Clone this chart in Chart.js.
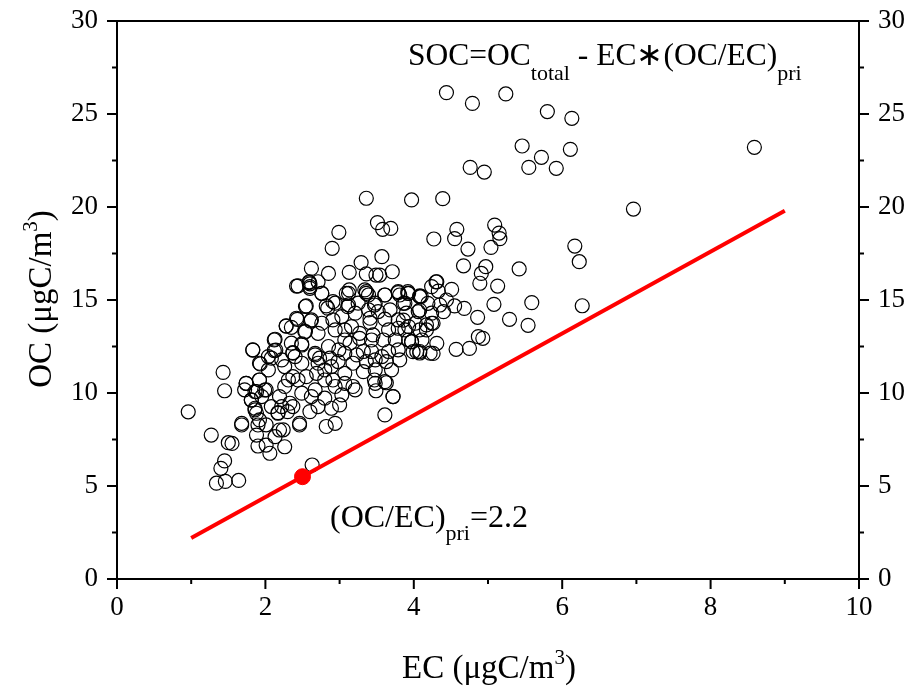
<!DOCTYPE html>
<html><head><meta charset="utf-8">
<script src="https://cdn.jsdelivr.net/npm/chart.js@4.4.1/dist/chart.umd.min.js"></script>
<style>html,body{margin:0;padding:0;background:#fff;}canvas{display:block;}</style>
</head><body>
<canvas id="c" width="909" height="688"></canvas>
<script>
// ---- data (EC, OC in µgC/m3) ----
const ecValues = [
  0.96,1.27,1.50,1.55,1.34,1.46,1.40,1.45,1.64,1.43,1.45,1.68,
  1.83,1.93,1.74,1.92,1.88,1.99,1.81,1.86,1.88,1.90,1.88,1.90,
  2.01,2.06,2.17,2.19,2.13,2.26,2.46,2.63,
  4.44,4.79,5.24,5.80,6.13,5.46,5.72,5.55,5.92,6.11,4.76,4.95,3.97,4.39,8.59,6.96,3.36,
  3.51,3.58,3.69,2.99,2.90,3.57,3.29,2.62,2.85,3.13,3.36,3.49,3.54,3.71,
  2.42,2.59,2.60,2.71,2.76,2.91,3.09,3.13,3.34,3.36,3.61,3.79,3.81,3.92,4.10,4.31,2.55,2.82,3.11,3.47,
  4.27,4.58,4.55,4.73,5.09,5.15,5.16,5.04,4.67,4.97,4.91,4.89,5.13,5.42,6.17,6.23,
  6.27,5.59,5.08,5.29,5.54,4.86,4.87,4.93,4.57,4.75,4.68,4.51,4.30,4.33,4.55,4.08,
  3.92,4.19,4.08,4.24,4.17,3.97,3.99,4.08,4.31,4.26,4.44,4.40,4.35,3.86,3.86,3.88,
  2.59,2.60,2.43,2.61,2.28,2.35,2.53,2.13,2.14,2.37,2.49,2.67,
  3.49,3.63,3.47,4.04,3.61,3.72,
  2.44,2.60,2.76,3.12,3.36,3.39,3.61,3.79,3.93,4.08,4.24,
  2.54,2.84,2.94,3.12,3.25,3.39,3.48,3.68,3.88,4.06,
  2.42,2.62,2.91,3.03,3.41,3.41,3.61,3.79,3.93,4.17,4.26,
  2.28,2.54,2.94,3.07,3.27,3.45,3.66,3.79,4.02,4.08,
  2.12,2.49,2.85,2.99,3.14,3.27,3.43,3.59,3.97,4.08,4.22,
  1.83,2.12,2.37,2.67,2.87,3.07,3.23,3.43,3.66,3.79,3.81,
  1.92,2.22,2.26,2.49,2.71,2.89,2.98,3.18,3.36,3.48,3.63,3.57,
  1.74,1.92,2.01,2.26,2.37,2.55,2.69,2.80,2.94,3.07,3.18,3.32,3.48,3.61,3.72,
  1.81,1.95,2.19,2.33,2.49,2.62,2.80,3.00,3.03,3.21,
  1.86,1.92,2.01,2.17,2.30,2.46,2.24,2.82,2.94,1.68,
  2.04,2.08,2.40,2.73,2.80,2.91,3.07,2.44,2.31,1.86,2.08,
  2.22,2.37,2.67,2.71,2.89,2.60,3.48,3.32,3.70,3.93,4.11,
  4.24,3.90,3.52,3.21,2.76,3.07,3.16,3.75,2.71,2.35,2.04,1.72
];
const ocValues = [
  8.99,7.74,7.33,7.29,5.15,5.25,5.95,6.35,5.30,11.11,10.12,8.28,
  12.31,11.56,10.52,10.70,10.07,10.16,9.62,9.18,8.91,8.28,7.74,7.15,
  7.20,6.76,8.94,8.01,7.65,7.11,8.28,6.13,
  26.15,25.57,26.08,25.13,24.77,23.28,22.67,22.13,22.08,23.10,22.13,21.88,20.38,20.45,23.21,19.89,20.47,
  19.16,18.80,18.85,18.64,17.78,17.33,17.01,16.70,16.43,16.49,16.40,16.34,16.34,16.52,
  15.75,15.98,15.72,15.98,15.36,14.91,15.36,15.54,15.54,15.36,15.27,15.45,15.27,15.36,15.20,15.98,14.68,14.68,14.64,14.73,
  18.28,18.80,18.30,17.74,19.03,18.60,18.30,17.83,16.84,16.79,16.43,15.90,15.75,16.67,17.90,17.06,
  14.69,14.86,14.77,13.96,13.64,14.07,13.03,12.94,12.35,12.40,14.55,15.57,15.97,15.48,14.68,15.18,
  15.45,14.82,14.46,13.75,13.39,12.76,12.22,12.15,12.67,12.13,15.00,14.37,14.73,14.82,13.92,13.39,
  15.93,15.63,13.96,13.87,13.60,13.53,13.30,12.89,12.31,12.17,12.58,12.13,
  10.12,10.55,10.70,12.22,8.82,9.81,
  15.76,15.87,15.36,15.36,15.45,15.27,15.27,15.40,15.36,15.22,15.72,
  14.65,14.56,14.83,14.74,14.83,14.47,14.83,14.47,14.83,14.38,
  14.02,13.93,13.93,14.11,14.02,13.79,13.97,13.93,13.57,13.66,13.75,
  13.61,13.30,13.39,13.39,13.21,13.12,13.39,13.48,13.75,13.39,
  12.85,12.64,12.50,12.32,12.68,12.94,12.85,12.85,12.76,12.23,12.14,
  12.32,12.28,12.14,12.05,11.87,12.14,12.05,12.23,12.23,12.32,11.78,
  11.60,11.78,11.42,11.60,11.60,11.42,11.69,11.60,11.69,11.24,11.69,11.96,
  10.52,10.70,10.17,10.35,10.88,10.88,11.06,10.70,10.35,10.52,10.35,11.15,10.52,10.61,9.81,
  9.63,9.81,9.81,9.45,9.99,9.81,9.72,9.36,9.90,10.17,
  9.09,8.55,8.29,8.91,9.00,8.37,8.02,8.20,8.37,8.37,
  11.96,11.87,11.96,11.87,11.24,10.70,11.06,10.70,10.70,10.08,9.27,
  9.27,9.27,10.17,9.27,9.18,9.00,11.78,12.23,11.24,12.85,12.85,
  14.29,14.29,14.38,14.29,13.75,12.85,13.57,12.85,13.21,12.68,11.24,10.17
];
const lineEC = [1, 9];
const lineOC = [2.2, 19.8];
const markEC = [2.5];
const markOC = [5.5];
const xTickValues = [0, 2, 4, 6, 8, 10];
const xMinorValues = [1, 3, 5, 7, 9];
const yTickValues = [0, 5, 10, 15, 20, 25, 30];
const yMinorValues = [2.5, 7.5, 12.5, 17.5, 22.5, 27.5];

const FONT = "'Liberation Serif','Times New Roman',serif";

function drawRich(ctx, x, y, parts) {
  let cx = x;
  for (const [t, s, dy] of parts) {
    ctx.font = s + 'px ' + FONT;
    ctx.fillText(t, cx, y + dy);
    cx += ctx.measureText(t).width;
  }
  return cx - x;
}
function richWidth(ctx, parts) {
  let w = 0;
  for (const [t, s] of parts) { ctx.font = s + 'px ' + FONT; w += ctx.measureText(t).width; }
  return w;
}

const framePlugin = {
  id: 'frame',
  afterDraw(chart) {
    const ctx = chart.ctx, a = chart.chartArea;
    const xs = chart.scales.x, ys = chart.scales.y;
    ctx.save();
    ctx.strokeStyle = '#000';
    ctx.lineWidth = 2;
    ctx.strokeRect(a.left, a.top, a.right - a.left, a.bottom - a.top);
    ctx.beginPath();
    for (const v of xTickValues) { const p = xs.getPixelForValue(v); ctx.moveTo(p, a.bottom); ctx.lineTo(p, a.bottom + 10); }
    for (const v of xMinorValues) { const p = xs.getPixelForValue(v); ctx.moveTo(p, a.bottom); ctx.lineTo(p, a.bottom + 5); }
    for (const v of yTickValues) { const p = ys.getPixelForValue(v); ctx.moveTo(a.left, p); ctx.lineTo(a.left - 10, p); ctx.moveTo(a.right, p); ctx.lineTo(a.right + 10, p); }
    for (const v of yMinorValues) { const p = ys.getPixelForValue(v); ctx.moveTo(a.left, p); ctx.lineTo(a.left - 5, p); ctx.moveTo(a.right, p); ctx.lineTo(a.right + 5, p); }
    ctx.stroke();

    ctx.fillStyle = '#000';
    ctx.textBaseline = 'alphabetic';
    ctx.textAlign = 'left';
    // x title
    const xt = [['EC (\u03bcgC/m', 33, 0], ['3', 21, -14], [')', 33, 0]];
    drawRich(ctx, 402, 678, xt);
    // y title
    const yt = [['OC (\u03bcgC/m', 33, 0], ['3', 21, -14], [')', 33, 0]];
    const yw = richWidth(ctx, yt);
    ctx.save();
    ctx.translate(51, 299);
    ctx.rotate(-Math.PI / 2);
    drawRich(ctx, -yw / 2, 0, yt);
    ctx.restore();
    // annotations
    drawRich(ctx, 408, 65, [['SOC=OC', 31.5, 0], ['total', 22, 15], [' - EC\u2217(OC/EC)', 31.5, 0], ['pri', 22, 15]]);
    drawRich(ctx, 330, 527, [['(OC/EC)', 32, 0], ['pri', 22, 13], ['=2.2', 32, 0]]);
    ctx.restore();
  }
};

const tickFont = { family: FONT, size: 27 };
const noGrid = { display: false, drawTicks: false };
function fitY(width) {
  return s => { s.width = width; s.paddingTop = 0; s.paddingBottom = 0; };
}
new Chart(document.getElementById('c'), {
  type: 'scatter',
  data: {
    datasets: [
      {
        data: ecValues.map((x, i) => ({ x, y: ocValues[i] })),
        pointStyle: 'circle', pointRadius: 7, pointBorderWidth: 1.2,
        pointBorderColor: '#000', pointBackgroundColor: 'rgba(0,0,0,0)',
        order: 3
      },
      {
        data: lineEC.map((x, i) => ({ x, y: lineOC[i] })),
        showLine: true, borderColor: '#ff0000', borderWidth: 4, pointRadius: 0, order: 2
      },
      {
        data: markEC.map((x, i) => ({ x, y: markOC[i] })),
        pointRadius: 8, pointBackgroundColor: '#ff0000', pointBorderColor: '#ff0000', order: 1
      }
    ]
  },
  options: {
    responsive: false, animation: false, devicePixelRatio: 1,
    layout: { padding: { top: 21, left: 0, right: 0, bottom: 0 } },
    plugins: { legend: { display: false }, tooltip: { enabled: false } },
    scales: {
      x: {
        type: 'linear', min: 0, max: 10,
        afterBuildTicks: s => { s.ticks = xTickValues.map(v => ({ value: v })); },
        ticks: { font: tickFont, color: '#000', padding: 13, maxRotation: 0 },
        grid: noGrid, border: { display: false },
        afterFit: s => { s.height = 109; s.paddingLeft = 0; s.paddingRight = 0; }
      },
      y: {
        type: 'linear', position: 'left', min: 0, max: 30,
        afterBuildTicks: s => { s.ticks = yTickValues.map(v => ({ value: v })); },
        ticks: { font: tickFont, color: '#000', padding: 19 },
        grid: noGrid, border: { display: false },
        afterFit: fitY(117)
      },
      y2: {
        type: 'linear', position: 'right', min: 0, max: 30,
        afterBuildTicks: s => { s.ticks = yTickValues.map(v => ({ value: v })); },
        ticks: { font: tickFont, color: '#000', padding: 19 },
        grid: noGrid, border: { display: false },
        afterFit: fitY(50)
      }
    }
  },
  plugins: [framePlugin]
});
</script>
</body></html>
